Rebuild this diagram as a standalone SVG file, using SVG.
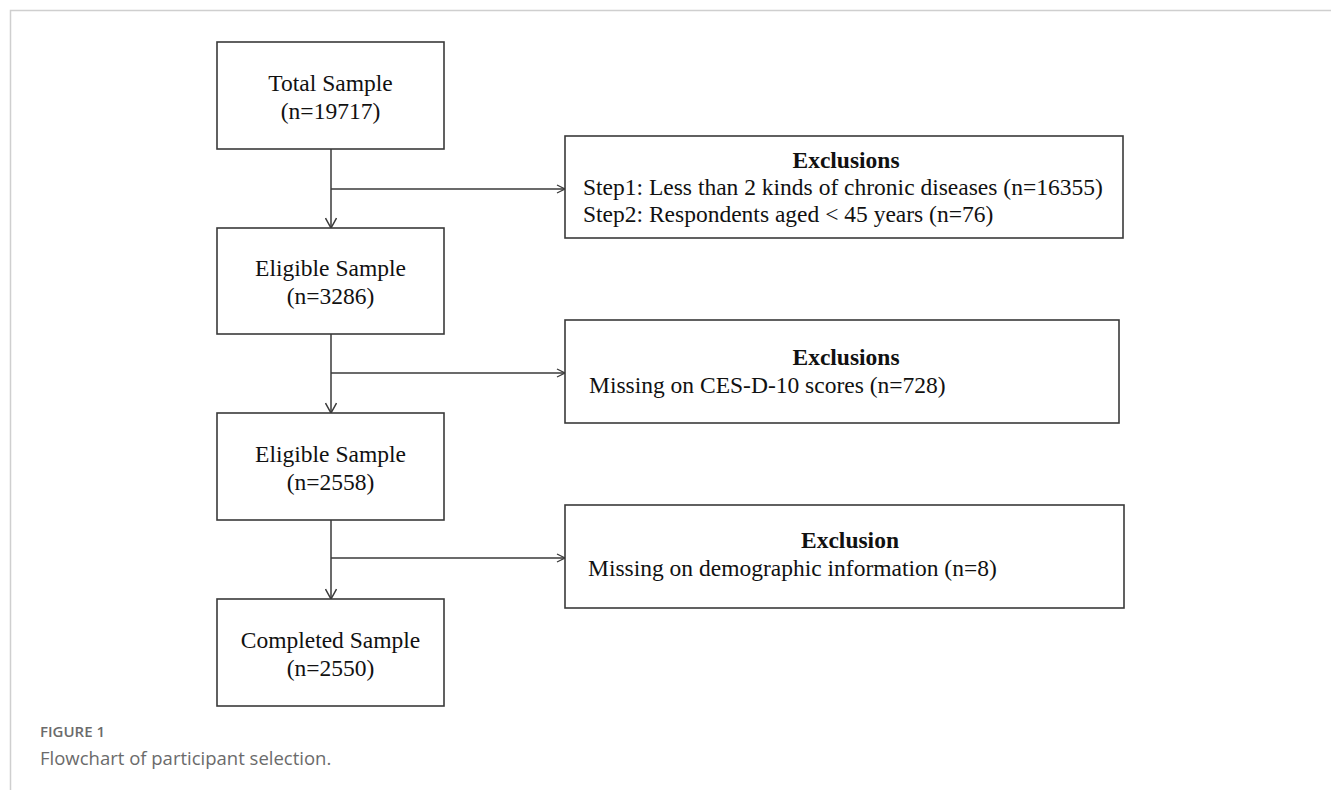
<svg xmlns="http://www.w3.org/2000/svg" width="1331" height="790" viewBox="0 0 1331 790">
<style>
.box{fill:#fff;stroke:#3a3a3a;stroke-width:1.6}
.t{font-family:"Liberation Serif","Times New Roman",serif;font-size:23.5px;fill:#111;text-anchor:middle}
.e{font-family:"Liberation Serif","Times New Roman",serif;font-size:23.5px;fill:#111}
.eb{font-family:"Liberation Serif","Times New Roman",serif;font-size:23.5px;font-weight:bold;fill:#111;text-anchor:middle}
.c{fill:none;stroke:#3a3a3a;stroke-width:1.5}
.cap1{font-family:"Open Sans","Noto Sans",sans-serif;font-size:15px;font-weight:600;fill:#6b6b6b}
.cap2{font-family:"Open Sans","Noto Sans",sans-serif;font-size:18.5px;fill:#6b6b6b}
</style>
<defs>
<marker id="av" viewBox="0 0 12 12" refX="11" refY="6" markerWidth="12" markerHeight="12" markerUnits="userSpaceOnUse" orient="auto">
<path d="M1,0.5 L11,6 L1,11.5" fill="none" stroke="#3a3a3a" stroke-width="1.5"/>
</marker>
<marker id="ah" viewBox="0 0 10 10" refX="9" refY="5" markerWidth="10" markerHeight="10" markerUnits="userSpaceOnUse" orient="auto">
<path d="M1,1 L9,5 L1,9" fill="none" stroke="#3a3a3a" stroke-width="1.3"/>
</marker>
</defs>
<rect width="1331" height="790" fill="#fff"/>
<path d="M10.5,790 V10.5 H1331" fill="none" stroke="#cfcfcf" stroke-width="1.5"/>

<g id="connectors">
<line class="c" x1="331" y1="149" x2="331" y2="228" marker-end="url(#av)"/>
<line class="c" x1="331" y1="189" x2="565" y2="189" marker-end="url(#ah)"/>
<line class="c" x1="331" y1="334" x2="331" y2="413" marker-end="url(#av)"/>
<line class="c" x1="331" y1="373" x2="565" y2="373" marker-end="url(#ah)"/>
<line class="c" x1="331" y1="520" x2="331" y2="599" marker-end="url(#av)"/>
<line class="c" x1="331" y1="558" x2="565" y2="558" marker-end="url(#ah)"/>
</g>

<g id="total">
<rect class="box" x="217" y="42" width="227" height="107"/>
<text class="t" x="330.5" y="91">Total Sample</text>
<text class="t" x="330.5" y="119">(n=19717)</text>
</g>
<g id="eligible1">
<rect class="box" x="217" y="228" width="227" height="106"/>
<text class="t" x="330.5" y="276">Eligible Sample</text>
<text class="t" x="330.5" y="304">(n=3286)</text>
</g>
<g id="eligible2">
<rect class="box" x="217" y="413" width="227" height="107"/>
<text class="t" x="330.5" y="462">Eligible Sample</text>
<text class="t" x="330.5" y="490">(n=2558)</text>
</g>
<g id="completed">
<rect class="box" x="217" y="599" width="227" height="107"/>
<text class="t" x="330.5" y="648">Completed Sample</text>
<text class="t" x="330.5" y="676">(n=2550)</text>
</g>

<g id="excl1">
<rect class="box" x="565" y="136" width="558" height="102"/>
<text class="eb" x="846" y="168">Exclusions</text>
<text class="e" x="583" y="195">Step1: Less than 2 kinds of chronic diseases (n=16355)</text>
<text class="e" x="583" y="222">Step2: Respondents aged &lt; 45 years (n=76)</text>
</g>
<g id="excl2">
<rect class="box" x="565" y="320" width="554" height="103"/>
<text class="eb" x="846" y="365">Exclusions</text>
<text class="e" x="589" y="393">Missing on CES-D-10 scores (n=728)</text>
</g>
<g id="excl3">
<rect class="box" x="565" y="505" width="559" height="103"/>
<text class="eb" x="850" y="548">Exclusion</text>
<text class="e" x="588" y="576">Missing on demographic information (n=8)</text>
</g>

<text class="cap1" x="40" y="737">FIGURE 1</text>
<text class="cap2" x="40" y="765">Flowchart of participant selection.</text>
</svg>
